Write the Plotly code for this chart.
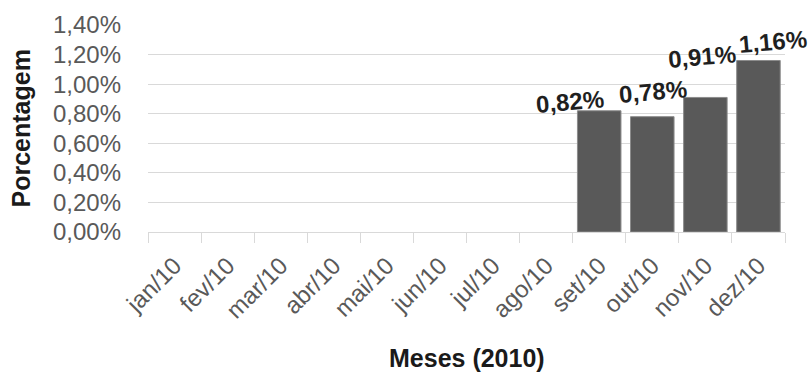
import plotly.graph_objects as go

# Monthly percentages for 2010 (only Sep-Dec reported)
months = ["jan/10", "fev/10", "mar/10", "abr/10", "mai/10", "jun/10",
          "jul/10", "ago/10", "set/10", "out/10", "nov/10", "dez/10"]
values = [None, None, None, None, None, None, None, None, 0.82, 0.78, 0.91, 1.16]

y_ticks = [0.0, 0.2, 0.4, 0.6, 0.8, 1.0, 1.2, 1.4]
y_tick_labels = ["0,00%", "0,20%", "0,40%", "0,60%", "0,80%", "1,00%", "1,20%", "1,40%"]

# Label nudges (pixels) for the value labels, in month order of the reported bars
label_dx = [-29, 1, -3, 15]
label_dy = [9, 25, 41, 19]

BAR = "#595959"
GRID = "#d9d9d9"
FONT = "Liberation Sans, Arial, sans-serif"

fig = go.Figure()
fig.add_trace(go.Bar(
    x=months, y=values,
    marker=dict(color=BAR, line=dict(color="#8c8c8c", width=1)),
    hoverinfo="skip",
))

annotations = []
reported = [(m, v) for m, v in zip(months, values) if v is not None]
for (m, v), dx, dy in zip(reported, label_dx, label_dy):
    annotations.append(dict(
        x=m, y=v, xref="x", yref="y",
        text=f"{v:.2f}%".replace(".", ","),
        showarrow=False, xanchor="center", yanchor="middle",
        xshift=dx, yshift=dy, textangle=-5,
        font=dict(family=FONT, size=24, color="#1f1f1f", weight="bold"),
    ))

# Axis titles
annotations.append(dict(
    x=0.5, y=0, xref="paper", yref="paper", text="Meses (2010)",
    showarrow=False, xanchor="center", yanchor="middle", yshift=-126,
    font=dict(family=FONT, size=25, color="#1a1a1a", weight="bold"),
))
annotations.append(dict(
    x=0, y=0.5, xref="paper", yref="paper", text="Porcentagem",
    showarrow=False, xanchor="center", yanchor="middle", xshift=-128,
    textangle=-90,
    font=dict(family=FONT, size=25, color="#1a1a1a", weight="bold"),
))

fig.update_layout(
    width=811, height=373,
    margin=dict(l=148, r=26, t=25, b=141),
    paper_bgcolor="white", plot_bgcolor="white",
    bargap=0.18,
    showlegend=False,
    annotations=annotations,
    font=dict(family=FONT, color="#595959"),
)
fig.update_xaxes(
    type="category", categoryorder="array", categoryarray=months,
    range=[-0.5, len(months) - 0.5],
    automargin=False,
    showline=True, linecolor=GRID, linewidth=1,
    ticks="outside", ticklen=10, tickcolor=GRID, tickwidth=1,
    tickson="boundaries", tickangle=-45,
    ticklabelstandoff=9,
    tickfont=dict(family=FONT, size=24, color="#595959"),
    showgrid=False, zeroline=False,
)
fig.update_yaxes(
    range=[0, 1.4], tickvals=y_ticks, ticktext=y_tick_labels,
    automargin=False,
    showgrid=True, gridcolor=GRID, gridwidth=1,
    zeroline=False, showline=False, ticks="",
    ticklabelstandoff=26,
    tickfont=dict(family=FONT, size=24, color="#595959"),
)

fig.write_html("out.html")
